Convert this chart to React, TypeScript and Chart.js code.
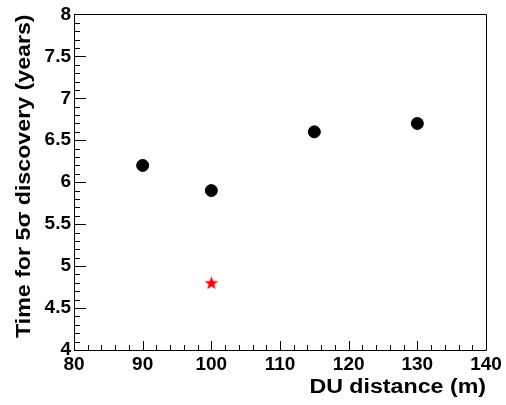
import React, { useEffect, useRef } from "react";
import { Chart, registerables } from "chart.js";

Chart.register(...registerables);

const duDistance = [90, 100, 115, 130];
const timeYears = [6.2, 5.9, 6.6, 6.7];
const starDistance = [100];
const starTime = [4.8];
const xTitle = "DU distance (m)";
const yTitle = "Time for 5\u03C3 discovery (years)";

function makeStar(): HTMLCanvasElement {
  const c = document.createElement("canvas");
  c.width = 15;
  c.height = 15;
  const g = c.getContext("2d")!;
  const cx = 7.5, cy = 8, R = 7.2, r = 2.9;
  g.beginPath();
  for (let i = 0; i < 10; i++) {
    const a = -Math.PI / 2 + (i * Math.PI) / 5;
    const rad = i % 2 === 0 ? R : r;
    const px = cx + rad * Math.cos(a);
    const py = cy + rad * Math.sin(a);
    if (i === 0) g.moveTo(px, py);
    else g.lineTo(px, py);
  }
  g.closePath();
  g.fillStyle = "#ff0000";
  g.fill();
  return c;
}

const framePlugin = {
  id: "rootFrame",
  afterDatasetsDraw(chart: any) {
    const { ctx, chartArea: a, scales } = chart;
    const xs = scales.x;
    const ys = scales.y;
    ctx.save();
    ctx.strokeStyle = "#000";
    ctx.lineWidth = 1;
    ctx.beginPath();
    ctx.rect(Math.round(a.left) + 0.5, Math.round(a.top) + 0.5, Math.round(a.right - a.left), Math.round(a.bottom - a.top));
    ctx.stroke();
    // y ticks
    ctx.beginPath();
    for (let k = 0; k <= 40; k++) {
      const v = 4 + k * 0.1;
      const py = Math.round(ys.getPixelForValue(v)) + 0.5;
      const len = k % 5 === 0 ? 12 : 6;
      ctx.moveTo(a.left, py);
      ctx.lineTo(a.left + len, py);
    }
    // x ticks
    for (let k = 0; k <= 30; k++) {
      const v = 80 + k * 2;
      const px = Math.round(xs.getPixelForValue(v)) + 0.5;
      const len = k % 5 === 0 ? 9 : 5;
      ctx.moveTo(px, a.bottom);
      ctx.lineTo(px, a.bottom - len);
    }
    ctx.stroke();
    // titles
    ctx.fillStyle = "#000";
    ctx.font = 'bold 20px "Liberation Sans", Arial, sans-serif';
    const sx = 1.16;
    ctx.save();
    ctx.translate(a.right, 393);
    ctx.scale(sx, 1);
    ctx.textAlign = "right";
    ctx.textBaseline = "alphabetic";
    ctx.fillText(xTitle, 0, 0);
    ctx.restore();
    ctx.save();
    ctx.translate(30, a.top);
    ctx.rotate(-Math.PI / 2);
    ctx.scale(sx, 1);
    ctx.textAlign = "right";
    ctx.textBaseline = "alphabetic";
    ctx.fillText(yTitle, 0, 0);
    ctx.restore();
    ctx.restore();
  },
};

export default function App() {
  const ref = useRef<HTMLCanvasElement>(null);
  useEffect(() => {
    const star = makeStar();
    const tickFont = { family: '"Liberation Sans", Arial, sans-serif', size: 19, weight: "bold" as const };
    const fmt = (v: any) => String(Math.round(Number(v) * 10) / 10);
    const chart = new Chart(ref.current!, {
      type: "scatter",
      data: {
        datasets: [
          {
            data: duDistance.map((x, i) => ({ x, y: timeYears[i] })),
            backgroundColor: "#000",
            borderColor: "#000",
            pointRadius: 6,
            pointStyle: "circle",
          },
          {
            data: starDistance.map((x, i) => ({ x, y: starTime[i] })),
            pointStyle: star as any,
          },
        ],
      },
      options: {
        animation: false,
        responsive: false,
        layout: { padding: { top: 13, right: 20, left: 0, bottom: 0 } },
        plugins: { legend: { display: false }, tooltip: { enabled: false } },
        scales: {
          x: {
            type: "linear",
            min: 80,
            max: 140,
            afterFit: (s: any) => { s.height = 55; },
            grid: { display: false, drawTicks: false },
            border: { display: false },
            ticks: { stepSize: 10, color: "#000", font: tickFont, padding: 3, maxRotation: 0, callback: fmt },
          },
          y: {
            type: "linear",
            min: 4,
            max: 8,
            afterFit: (s: any) => { s.width = 74; },
            grid: { display: false, drawTicks: false },
            border: { display: false },
            ticks: { stepSize: 0.5, color: "#000", font: tickFont, padding: 3, callback: fmt },
          },
        },
      },
      plugins: [framePlugin],
    });
    return () => chart.destroy();
  }, []);
  return (
    <div style={{ position: "absolute", left: 0, top: 0, width: 506, height: 405, background: "#fff" }}>
      <canvas ref={ref} width={506} height={405} style={{ display: "block" }} />
    </div>
  );
}
